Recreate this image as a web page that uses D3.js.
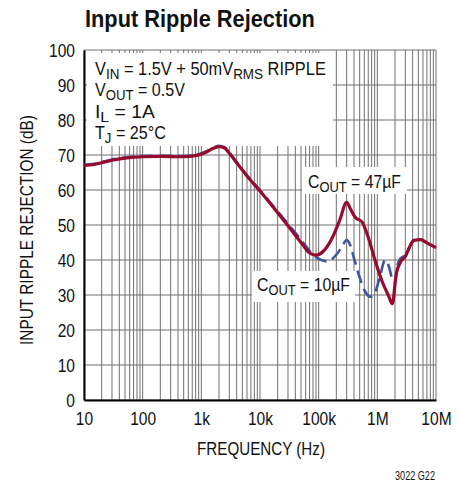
<!DOCTYPE html>
<html><head><meta charset="utf-8">
<script src="https://cdn.jsdelivr.net/npm/d3@7"></script>
<style>
html,body{margin:0;padding:0;background:#fff;}
text{font-family:"Liberation Sans",Arial,sans-serif;fill:#111;}
</style></head>
<body><svg id="c" width="460" height="487"></svg>
<script>
// ---- data ----
const xTickValues = [10, 100, 1e3, 1e4, 1e5, 1e6, 1e7];
const xTickLabels = ["10", "100", "1k", "10k", "100k", "1M", "10M"];
const yTickValues = [0, 10, 20, 30, 40, 50, 60, 70, 80, 90, 100];

const freq47 = [10, 15, 20, 30, 50, 100, 200, 500, 800, 1200, 1600, 2000, 2500, 3000, 4000, 6000, 10000, 20000, 30000, 50000, 70000, 90000, 120000, 170000, 230000, 300000, 350000, 420000, 550000, 700000, 900000, 1200000, 1550000, 1800000, 2100000, 2500000, 3000000, 3500000, 4200000, 5500000, 7000000, 10000000];
const rej47 = [67.0, 67.3, 67.8, 68.5, 69.1, 69.5, 69.6, 69.5, 69.8, 70.8, 71.9, 72.4, 72.0, 70.5, 67.8, 64.0, 59.7, 53.5, 49.8, 45.0, 42.0, 41.4, 42.5, 46.3, 51.5, 56.5, 54.5, 52.2, 50.8, 46.5, 40.3, 34.0, 29.8, 27.5, 36.0, 39.5, 41.0, 43.5, 45.6, 45.8, 44.9, 43.5];

const freq10 = [10, 15, 20, 30, 50, 100, 200, 500, 800, 1200, 1600, 2000, 2500, 3000, 4000, 6000, 10000, 20000, 30000, 50000, 70000, 100000, 140000, 200000, 250000, 300000, 340000, 400000, 500000, 620000, 750000, 900000, 1100000, 1350000, 1550000, 1800000, 2000000, 2200000, 2500000, 3100000, 3600000, 4200000, 5500000, 7000000, 10000000];
const rej10 = [67.2, 67.5, 68.0, 68.7, 69.3, 69.7, 69.8, 69.7, 70.0, 71.0, 72.1, 72.6, 72.2, 70.7, 68.0, 64.2, 59.9, 53.9, 50.3, 45.8, 42.6, 40.3, 39.6, 41.5, 43.8, 45.7, 44.5, 40.5, 35.0, 31.0, 29.5, 30.5, 35.0, 40.0, 38.5, 34.5, 33.5, 38.5, 40.5, 41.5, 44.0, 45.6, 45.8, 44.9, 43.5];

// ---- layout ----
const svg = d3.select("#c");
const x = d3.scaleLog().domain([10, 1e7]).range([84, 436]);
const y = d3.scaleLinear().domain([0, 100]).range([400, 50]);
const gridColor = "#707070";
const SX = 0.82; // horizontal condensing of tick labels

// fit a text element horizontally to a target width, anchored at its x attribute
function fit(sel, w) {
  const n = sel.node();
  const cw = n.getComputedTextLength();
  const s = w / cw;
  const x0 = +sel.attr("x") || 0;
  sel.attr("transform", `translate(${x0},0) scale(${s},1) translate(${-x0},0)`);
  return sel;
}

// grid
const vLines = [];
for (let d = 10; d < 1e7; d *= 10) for (let k = 1; k <= 10; k++) vLines.push(d * k);
const grid = svg.append("g");
grid.selectAll("line.v").data([...new Set(vLines)]).join("line")
  .attr("x1", d => x(d)).attr("x2", d => x(d)).attr("y1", y(0)).attr("y2", y(100))
  .attr("stroke", gridColor).attr("stroke-width", 1);
grid.selectAll("line.h").data(yTickValues).join("line")
  .attr("x1", x(10)).attr("x2", x(1e7)).attr("y1", d => y(d)).attr("y2", d => y(d))
  .attr("stroke", gridColor).attr("stroke-width", 1);

// white boxes behind labels
svg.append("rect").attr("x", 87).attr("y", 53).attr("width", 246).attr("height", 93).attr("fill", "#fff");
svg.append("rect").attr("x", 302).attr("y", 167).attr("width", 105).attr("height", 27).attr("fill", "#fff");
svg.append("rect").attr("x", 252).attr("y", 271).attr("width", 103).attr("height", 31).attr("fill", "#fff");

// axes
const xAxis = d3.axisBottom(x).tickValues(xTickValues).tickFormat((d, i) => xTickLabels[i]).tickSize(0).tickPadding(12);
const gx = svg.append("g").attr("transform", `translate(0,${y(0)})`).call(xAxis);
gx.select(".domain").attr("stroke", "#000").attr("stroke-width", 2);
gx.selectAll("text").attr("font-size", 19).attr("fill", "#111").attr("font-family", null)
  .attr("transform", `scale(${SX},1)`);

const yAxis = d3.axisLeft(y).tickValues(yTickValues).tickSize(0).tickPadding(9);
const gy = svg.append("g").attr("transform", `translate(${x(10)},0)`).call(yAxis);
gy.select(".domain").attr("stroke", "#000").attr("stroke-width", 2);
gy.selectAll("text").attr("font-size", 19).attr("fill", "#111").attr("font-family", null)
  .attr("x", -9 / SX).attr("dy", "0.36em").attr("transform", `scale(${SX},1)`);

// curves
const line = d3.line().curve(d3.curveMonotoneX);
const pts10 = freq10.map((f, i) => [x(f), y(rej10[i])]);
const pts47 = freq47.map((f, i) => [x(f), y(rej47[i])]);
svg.append("path").attr("d", line(pts10)).attr("fill", "none")
  .attr("stroke", "#3a56a5").attr("stroke-width", 2.6).attr("stroke-dasharray", "13,6");
svg.append("path").attr("d", line(pts47)).attr("fill", "none")
  .attr("stroke", "#960a2e").attr("stroke-width", 3.2).attr("stroke-linejoin", "round");

// titles
fit(svg.append("text").attr("x", 85).attr("y", 27).attr("font-size", 24).attr("font-weight", "bold").text("Input Ripple Rejection"), 230);
fit(svg.append("text").attr("x", 261).attr("y", 455).attr("text-anchor", "middle").attr("font-size", 18).text("FREQUENCY (Hz)"), 128);
const yt = svg.append("text").attr("x", 0).attr("y", 0).attr("text-anchor", "middle").attr("font-size", 18).text("INPUT RIPPLE REJECTION (dB)");
const ytw = yt.node().getComputedTextLength();
yt.attr("transform", `translate(33,230) rotate(-90) scale(${230 / ytw},1)`);
fit(svg.append("text").attr("x", 435).attr("y", 480).attr("text-anchor", "end").attr("font-size", 12).text("3022 G22"), 40);

// condition text with subscripts
function sub(xx, yy, parts, fs, w) {
  const t = svg.append("text").attr("x", xx).attr("y", yy).attr("font-size", fs);
  parts.forEach(p => {
    const s = t.append("tspan").text(p[0]);
    if (p[1] === "sub") s.attr("font-size", fs * 0.82).attr("dy", 4);
    else if (p[1] === "up") s.attr("dy", -4);
  });
  return fit(t, w);
}
sub(95, 75, [["V"], ["IN", "sub"], [" = 1.5V + 50mV", "up"], ["RMS", "sub"], [" RIPPLE", "up"]], 17.5, 231);
sub(95, 96, [["V"], ["OUT", "sub"], [" = 0.5V", "up"]], 17.5, 90);
sub(95, 118, [["I"], ["L", "sub"], [" = 1A", "up"]], 17.5, 60);
sub(95, 139, [["T"], ["J", "sub"], [" = 25°C", "up"]], 17.5, 71);
sub(308, 188, [["C"], ["OUT", "sub"], [" = 47µF", "up"]], 17.5, 93);
sub(257, 291, [["C"], ["OUT", "sub"], [" = 10µF", "up"]], 17.5, 93);
</script></body></html>
